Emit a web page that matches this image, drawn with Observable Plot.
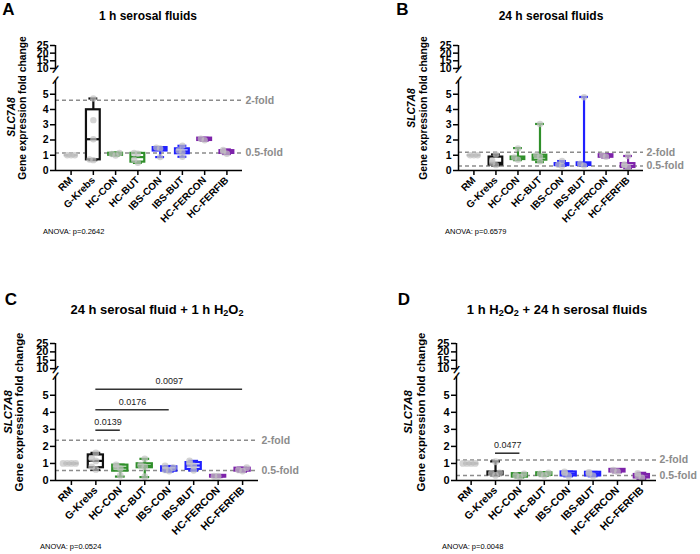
<!DOCTYPE html>
<html><head><meta charset="utf-8">
<script src="https://cdn.jsdelivr.net/npm/d3@7"></script>
<script src="https://cdn.jsdelivr.net/npm/@observablehq/plot@0.6"></script>
<style>
body{margin:0;background:#fff;}
#wrap{position:relative;width:700px;height:554px;font-family:Arial,"Liberation Sans",sans-serif;overflow:hidden;background:#fff}
.t{position:absolute;white-space:nowrap;line-height:1;color:#000}
sub{font-size:70%;vertical-align:-0.25em;line-height:0}
</style></head><body><div id="wrap"></div>
<script>
// ---------- data ----------
const categories = ["RM","G-Krebs","HC-CON","HC-BUT","IBS-CON","IBS-BUT","HC-FERCON","HC-FERFIB"];
const groupColors = ["#ababab","#111111","#2f8f2a","#2f8f2a","#2020ff","#2020ff","#7d22aa","#7d22aa"];
const yTicks = [0,1,2,3,4,5,10,15,20,25];
const foldLabels = ["2-fold","0.5-fold"];

// five-number summaries [min, q1, median, q3, max] per category
const boxA = [[1,1,1,1,1],[0.68,0.70,2.05,3.98,4.72],[0.98,1.0,1.08,1.13,1.18],[0.5,0.55,0.88,1.12,1.15],
              [0.88,1.28,1.42,1.5,1.52],[0.9,1.1,1.25,1.42,1.62],[1.95,1.97,2.05,2.12,2.14],[1.08,1.12,1.22,1.3,1.38]];
const pointsA = [[1,1,1],[0.68,0.72,2.05,3.3,4.72],[0.98,1.08,1.15],[0.5,0.7,1.1,1.15],
                 [0.88,1.45,1.5],[0.9,1.2,1.3,1.62],[1.98,2.08],[1.1,1.25,1.35]];
const foldA = [4.6, 1.15];
const sigA = [];

const boxB = [[1,1,1,1,1],[0.33,0.36,0.5,0.88,1.05],[0.68,0.72,0.8,0.88,1.47],[0.55,0.68,0.9,1.0,3.05],
              [0.3,0.32,0.38,0.45,0.62],[0.3,0.33,0.42,0.5,4.82],[0.85,0.87,0.95,1.03,1.05],[0.15,0.2,0.3,0.45,0.95]];
const pointsB = [[1,1,1],[0.35,0.5,0.65,1.05],[0.7,0.85,1.45],[0.6,0.9,1.0,3.05],
                 [0.3,0.38,0.62],[0.32,0.45,4.8],[0.9,1.0],[0.2,0.35,0.4,0.95]];
const foldB = [1.2, 0.3];
const sigB = [];

const boxC = [[1,1,1,1,1],[0.62,0.75,1.15,1.5,1.62],[0.23,0.55,0.75,0.9,0.93],[0.2,0.75,0.85,0.98,1.27],
              [0.52,0.55,0.65,0.8,0.85],[0.58,0.65,0.88,1.05,1.15],[0.2,0.2,0.25,0.3,0.3],[0.52,0.55,0.62,0.72,0.75]];
const pointsC = [[1,1,1,1],[0.65,0.8,1.15,1.3,1.62],[0.3,0.7,0.8,0.92],[0.22,0.8,0.9,1.27],
                 [0.55,0.62,0.75,0.85],[0.6,0.85,1.0,1.15],[0.25,0.25],[0.55,0.62,0.75]];
const foldC = [2.36, 0.59];
const sigC = [[1,2,2.95,"0.0139"],[1,4,4.15,"0.0176"],[1,7,5.35,"0.0097"]];

const boxD = [[1,1,1,1,1],[0.3,0.33,0.42,0.5,1.12],[0.18,0.2,0.3,0.4,0.42],[0.28,0.3,0.37,0.45,0.48],
              [0.25,0.27,0.4,0.5,0.52],[0.25,0.27,0.38,0.48,0.5],[0.48,0.5,0.57,0.65,0.67],[0.1,0.15,0.25,0.35,0.45]];
const pointsD = [[1,1,1,1],[0.3,0.42,0.45,1.1],[0.2,0.3,0.38],[0.3,0.38,0.45],
                 [0.27,0.42,0.5],[0.27,0.4,0.48],[0.52,0.6],[0.15,0.28,0.42]];
const foldD = [1.2, 0.3];
const sigD = [[1,2,1.6,"0.0477"]];

const anova = ["ANOVA: p=0.2642","ANOVA: p=0.6579","ANOVA: p=0.0524","ANOVA: p=0.0048"];
const titles = ["1 h serosal fluids","24 h serosal fluids","24 h serosal fluid + 1 h H<sub>2</sub>O<sub>2</sub>","1 h H<sub>2</sub>O<sub>2</sub> + 24 h serosal fluids"];
const letters = ["A","B","C","D"];

// ---------- drawing ----------
const wrap = document.getElementById("wrap");
function addText(html, x, y, o = {}) {
  const d = document.createElement("div");
  d.className = "t";
  d.innerHTML = html;
  d.style.left = x + "px"; d.style.top = y + "px";
  d.style.fontSize = (o.size || 10) + "px";
  d.style.fontWeight = o.weight || "normal";
  if (o.italic) d.style.fontStyle = "italic";
  const ax = o.anchor === "start" ? "0" : "-50%";
  d.style.transform = `translate(${ax},-50%)` + (o.rotate ? ` rotate(${o.rotate}deg)` : "");
  wrap.appendChild(d);
}

const spread = [0, -0.17, 0.17, -0.34, 0.34];
function panel(cfg) {
  const {boxes, points, folds, sig, left, top, width, height, axisX, xEnd, xDomain, yDomain, yRange, fs} = cfg;
  const [xmin, xmax] = xDomain;
  const boxData = boxes.map((b, i) => ({i, min: b[0], q1: b[1], med: b[2], q3: b[3], max: b[4], color: groupColors[i]}));
  const ptData = [];
  points.forEach((arr, i) => {
    const placed = [];
    arr.forEach(v => {
      const c = placed.filter(p => Math.abs(p - v) < 0.2).length;
      ptData.push({i, v, off: spread[Math.min(c, spread.length - 1)]});
      placed.push(v);
    });
  });
  const bw = 0.31, cw = 0.2;
  const foldData = folds.map((v, k) => ({v, label: foldLabels[k]}));
  const svg = Plot.plot({
    width, height,
    marginLeft: axisX, marginRight: width - xEnd,
    marginTop: yRange[3], marginBottom: height - yRange[0],
    x: {type: "linear", domain: xDomain},
    y: {type: "linear", domain: yDomain, range: yRange},
    style: {fontFamily: "Arial, 'Liberation Sans', sans-serif", fontSize: "10px", overflow: "visible", background: "transparent", color: "#000"},
    marks: [
      Plot.ruleY(foldData, {y: "v", x1: xmin, x2: xmax, stroke: "#8c8c8c", strokeWidth: 1.5, strokeDasharray: "4,3"}),
      Plot.text(foldData, {y: "v", x: xmax, text: "label", textAnchor: "start", dx: 3, fill: "#8c8c8c", fontWeight: "bold", fontSize: fs.fold}),
      Plot.ruleX(boxData, {x: "i", y1: "min", y2: "max", stroke: "color", strokeWidth: 2.2}),
      Plot.ruleY(boxData, {y: "max", x1: d => d.i - cw, x2: d => d.i + cw, stroke: "color", strokeWidth: 2.2}),
      Plot.ruleY(boxData, {y: "min", x1: d => d.i - cw, x2: d => d.i + cw, stroke: "color", strokeWidth: 2.2}),
      Plot.rect(boxData, {x1: d => d.i - bw, x2: d => d.i + bw, y1: "q1", y2: "q3", fill: "white", stroke: "color", strokeWidth: 2.2}),
      Plot.ruleY(boxData, {y: "med", x1: d => d.i - bw, x2: d => d.i + bw, stroke: "color", strokeWidth: 2.2}),
      Plot.dot(ptData, {x: d => d.i + d.off, y: "v", r: fs.r, fill: "#c2c2c2", fillOpacity: 0.7}),
      Plot.ruleY(sig, {y: d => d[2], x1: d => d[0], x2: d => d[1], stroke: "#333", strokeWidth: 1.6}),
      Plot.text(sig, {x: d => (d[0] + d[1]) / 2, y: d => d[2], text: d => d[3], dy: -8, fontSize: fs.sig, fill: "#222"}),
      Plot.ruleY([0], {x1: xmin, x2: xmax, stroke: "#000", strokeWidth: 1.5}),
      Plot.ruleX([[0, yDomain[1]], [yDomain[2], 25]], {x: xmin, y1: d => d[0], y2: d => d[1], stroke: "#000", strokeWidth: 1.5}),
      Plot.text([yDomain[1], yDomain[2]], {x: xmin, y: d => d, text: () => "/", fontSize: 12, fontWeight: "bold", rotate: 25, fill: "#000"}),
      Plot.axisY({ticks: yTicks, tickFormat: d => String(d), tickSize: 5, tickPadding: 2, fontSize: fs.tick, fontWeight: "bold", label: null, strokeWidth: 1.5}),
      Plot.axisX({ticks: categories.map((_, i) => i), tickFormat: i => categories[i], tickRotate: -45, tickSize: 5, tickPadding: 3, fontSize: fs.cat, fontWeight: "bold", label: null, strokeWidth: 1.5})
    ]
  });
  svg.style.position = "absolute";
  svg.style.left = left + "px";
  svg.style.top = top + "px";
  wrap.appendChild(svg);
}

const fsAB = {fold: 10.5, tick: 10.5, cat: 10, sig: 8.5, r: 3.2};
const fsCD = {fold: 10.5, tick: 11, cat: 10.5, sig: 9, r: 3.4};

panel({boxes: boxA, points: pointsA, folds: foldA, sig: sigA, left: 0, top: 0, width: 350, height: 277,
  axisX: 55, xEnd: 242, xDomain: [-0.7, 7.7], yDomain: [0, 5.9, 9.3, 25], yRange: [170, 80, 69, 45], fs: fsAB});
panel({boxes: boxB, points: pointsB, folds: foldB, sig: sigB, left: 350, top: 0, width: 350, height: 277,
  axisX: 108, xEnd: 293, xDomain: [-0.7, 7.7], yDomain: [0, 5.9, 9.3, 25], yRange: [170, 80, 69, 45], fs: fsAB});
panel({boxes: boxC, points: pointsC, folds: foldC, sig: sigC, left: 0, top: 277, width: 350, height: 277,
  axisX: 55, xEnd: 258, xDomain: [-0.65, 7.65], yDomain: [0, 6.1, 9.2, 25], yRange: [203, 99, 92.5, 66], fs: fsCD});
panel({boxes: boxD, points: pointsD, folds: foldD, sig: sigD, left: 350, top: 277, width: 350, height: 277,
  axisX: 106, xEnd: 306, xDomain: [-0.6, 7.6], yDomain: [0, 6.1, 9.2, 25], yRange: [203, 99, 92.5, 66], fs: fsCD});

// panel letters, titles, axis titles, notes
const letterPos = [[8.5, 9], [402.5, 9], [11, 299], [404, 299]];
const titlePos = [[148, 15.5], [551, 15.5], [157, 309], [557, 309]];
const titleSize = [12, 12, 13, 13];
const ylabPos = [[12, 117, 23, 108], [412, 108, 423.5, 108], [9, 412, 20, 412], [409, 412, 422, 412]];
const ylabSize = [10.3, 10.3, 11.4, 11.4];
const anovaPos = [[43, 232], [445, 232], [40, 547], [442, 547]];
letters.forEach((L, k) => {
  addText(L, letterPos[k][0], letterPos[k][1], {size: 17, weight: "bold"});
  addText(titles[k], titlePos[k][0], titlePos[k][1], {size: titleSize[k], weight: "bold"});
  addText("SLC7A8", ylabPos[k][0], ylabPos[k][1], {size: ylabSize[k], weight: "bold", italic: true, rotate: -90});
  addText("Gene expression fold change", ylabPos[k][2], ylabPos[k][3], {size: ylabSize[k], weight: "bold", rotate: -90});
  addText(anova[k], anovaPos[k][0], anovaPos[k][1], {size: 7.5, anchor: "start"});
});
</script></body></html>
